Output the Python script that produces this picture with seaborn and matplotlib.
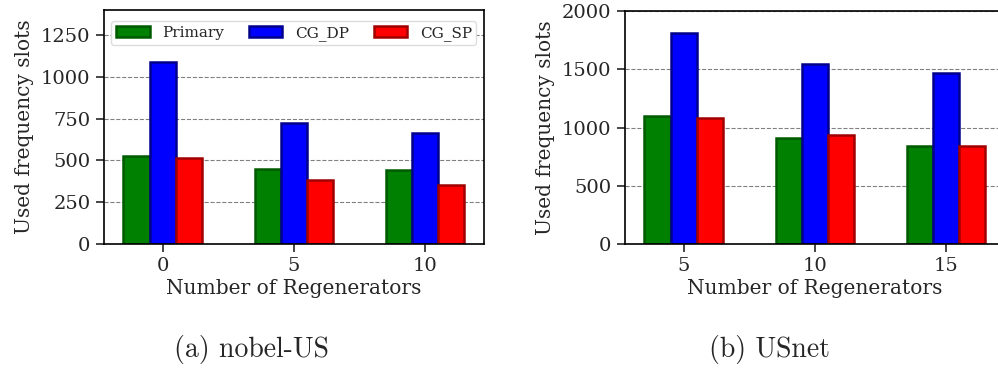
import pandas as pd
import matplotlib.pyplot as plt
import seaborn as sns

sns.set_style('ticks')
plt.rcParams['font.family'] = ['DejaVu Serif']

# data
methods = ['Primary', 'CG_DP', 'CG_SP']
regen_a = ['0', '5', '10']
primary_a = [525, 450, 440]
cgdp_a = [1090, 725, 665]
cgsp_a = [515, 385, 350]

regen_b = ['5', '10', '15']
primary_b = [1095, 910, 845]
cgdp_b = [1815, 1545, 1470]
cgsp_b = [1085, 940, 845]

fills = ['#008000', '#0000ff', '#ff0000']
edges = ['#005a00', '#00008b', '#a00000']


def to_long(regen, *series):
    rows = []
    for m, vals in zip(methods, series):
        for r, v in zip(regen, vals):
            rows.append({'Regenerators': r, 'Method': m, 'Slots': v})
    return pd.DataFrame(rows)


df_a = to_long(regen_a, primary_a, cgdp_a, cgsp_a)
df_b = to_long(regen_b, primary_b, cgdp_b, cgsp_b)

fig = plt.figure(figsize=(9.98, 3.68), dpi=100)
ax1 = fig.add_axes([0.104, 0.337, 0.381, 0.636])
ax2 = fig.add_axes([0.626, 0.337, 0.381, 0.633])


def draw(ax, df, order, ymax, yticks):
    sns.barplot(data=df, x='Regenerators', y='Slots', hue='Method',
                order=order, hue_order=methods, palette=fills,
                saturation=1, width=0.6, gap=0, ax=ax, legend=False)
    for cont, ec in zip(ax.containers, edges):
        for p in cont.patches:
            p.set_edgecolor(ec)
            p.set_linewidth(1.8)
    ax.set_ylim(0, ymax)
    ax.set_xlim(-0.45, 2.45)
    ax.set_yticks(yticks)
    ax.yaxis.grid(True, linestyle='--', color='grey', linewidth=0.8)
    ax.set_axisbelow(True)
    ax.set_xlabel('Number of Regenerators', fontsize=14.5, labelpad=3)
    ax.set_ylabel('Used frequency slots', fontsize=14.5, labelpad=5)
    ax.tick_params(axis='both', labelsize=14, length=6, width=1.2)
    for s in ax.spines.values():
        s.set_linewidth(1.2)
        s.set_color('black')


draw(ax1, df_a, regen_a, 1400, [0, 250, 500, 750, 1000, 1250])
draw(ax2, df_b, regen_b, 2000, [0, 500, 1000, 1500, 2000])

handles = [plt.Rectangle((0, 0), 1, 1, facecolor=f, edgecolor=e, linewidth=1.8)
           for f, e in zip(fills, edges)]
ax1.legend(handles, methods, loc='upper left', ncol=3, mode='expand',
           bbox_to_anchor=(0.0, 0.0, 1.0, 0.985), fontsize=11,
           framealpha=1, edgecolor='#dddddd', fancybox=True,
           handlelength=2.2, borderpad=0.3)

fig.text(0.252, 0.03, '(a) nobel-US', ha='center', fontsize=20, family='cmr10')
fig.text(0.771, 0.03, '(b) USnet', ha='center', fontsize=20, family='cmr10')

fig.savefig('out.png', dpi=100)
